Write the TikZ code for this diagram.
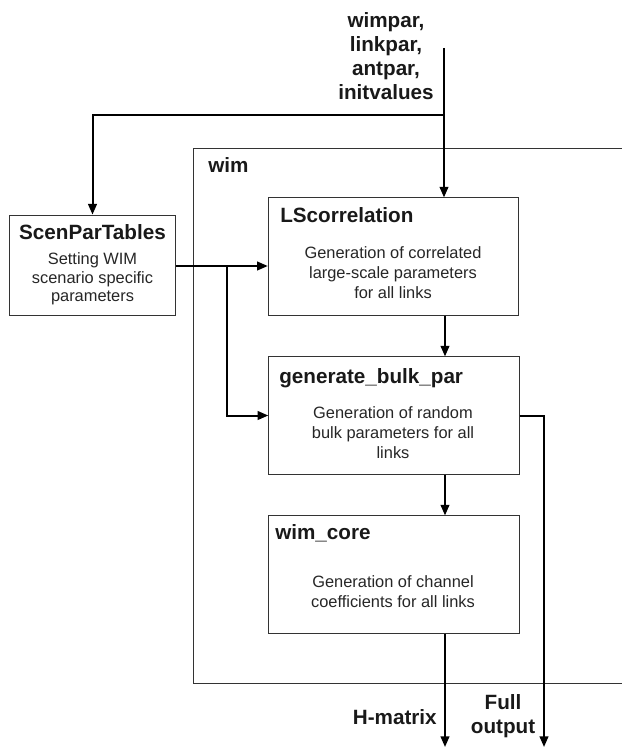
\documentclass[tikz,border=0pt]{standalone}
\usepackage{fontspec}
\setmainfont{Liberation Sans}
\usetikzlibrary{
    arrows.meta,      % arrow tips
    positioning       % relative placement
}

\begin{document}
\begin{tikzpicture}[
    x=0.75pt, y=-0.75pt,
    % styles
    block/.style={rectangle, draw=black!80, line width=0.6pt, fill=white, minimum width=188pt, minimum height=88pt, inner sep=0pt},
    title/.style={font=\fontsize{15.5}{18}\selectfont\bfseries, text=black!90, inner sep=0pt},
    body/.style={font=\fontsize{12.3}{15}\selectfont, text=black!85, align=center, inner sep=0pt},
    outlabel/.style={font=\fontsize{15.5}{18}\selectfont\bfseries, text=black!90, align=center, inner sep=0pt},
    arrow/.style={line width=1.5pt, -{Triangle[length=8pt,width=6.5pt]}},
    wire/.style={line width=1.5pt}
]
\useasboundingbox (0,0) rectangle (621,749);

% ----- WIM FRAME -----
\draw [line width=0.6pt, draw=black!80] (625,148) -| (193,683) -- (625,683);
\node (wim_label) [title, anchor=west] at (208,165) {wim};

% ----- BLOCKS -----
\node (scen) [block, minimum width=125pt, minimum height=75pt] at (92.5,265) {};
\node (lscorr) [block] at (393.5,256.5) {};
\node (bulk)   [block] at (394,415.5) {};
\node (core)   [block] at (394,574.5) {};

\node (scen_title) [title] at (92.5,232) {ScenParTables};
\node (scen_text)  [body, font=\fontsize{12.3}{14}\selectfont] at (92.5,279) {Setting WIM\\scenario specific\\parameters};

\node (lscorr_title) [title, anchor=west] at (280,215) {LScorrelation};
\node (lscorr_text)  [body] at (393,273) {Generation of correlated\\large-scale parameters\\for all links};

\node (bulk_title) [title, anchor=west] at (279,378) {generate\_bulk\_par};
\node (bulk_text)  [body] at (393,433) {Generation of random\\bulk parameters for all\\links};

\node (core_title) [title, anchor=west] at (275,533) {wim\_core};
\node (core_text)  [body] at (393,592) {Generation of channel\\coefficients for all links};

% ----- INPUTS / OUTPUTS -----
\node (inputs) [outlabel] at (386,56) {wimpar,\\linkpar,\\antpar,\\initvalues};
\coordinate (in)    at (444,48);
\coordinate (split) at (444,115);
\coordinate (tap)   at (227,266);
\coordinate (hout)  at (445,747);
\coordinate (fout)  at (544,747);

\node (h_label)    [outlabel, anchor=east] at (437,717) {H-matrix};
\node (full_label) [outlabel] at (503,716) {Full\\output};

% ----- CONNECTIONS -----
\draw [arrow] (in) -- (in |- lscorr.north);
\draw [arrow] (split) -| (scen.north);
\draw [arrow] (scen.east |- tap) -- (tap -| lscorr.west);
\draw [arrow] (tap) |- (bulk.west);
\draw [arrow] (lscorr.south -| hout) -- (bulk.north -| hout);
\draw [arrow] (bulk.south -| hout) -- (core.north -| hout);
\draw [arrow] (core.south -| hout) -- (hout);
\draw [arrow] (bulk.east) -| (fout);

\end{tikzpicture}
\end{document}
